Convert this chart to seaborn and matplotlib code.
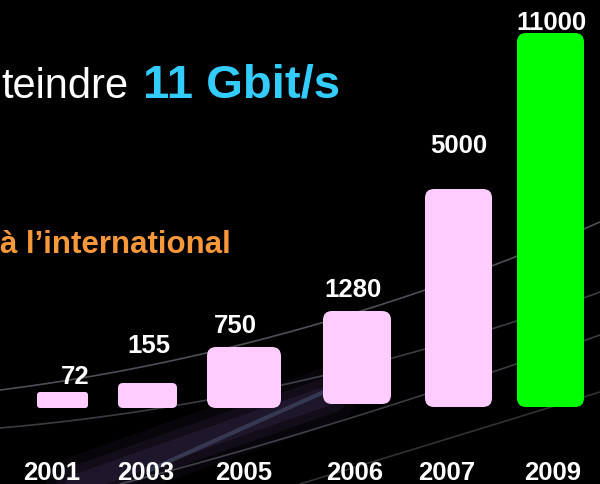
import numpy as np
import pandas as pd
import matplotlib
matplotlib.use("Agg")
import matplotlib.pyplot as plt
import seaborn as sns
from matplotlib.patches import FancyBboxPatch

# ---- data ----
years = ["2001", "2003", "2005", "2006", "2007", "2009"]
values = [72, 155, 750, 1280, 5000, 11000]
# bar heights as drawn on the slide (not to scale with values)
drawn_heights = [16, 25, 61, 93, 218, 374]
bar_colors = ["#FFCCFF", "#FFCCFF", "#FFCCFF", "#FFCCFF", "#FFCCFF", "#00FF00"]

# ---- layout (pixel-like units) ----
bar_centers = [62.5, 147.5, 244, 357, 458.5, 550.5]
bar_widths = [51, 59, 74, 68, 67, 67]
bar_bottoms = [0, 0, 0, 4, 1, 1]
label_x = [75, 149, 235, 353, 459, 551]
label_y = [24, 55, 75, 111, 255, 378]
year_x = [52, 146, 244, 355, 447, 553]

sns.set_theme(style="dark")
plt.rcParams['font.family'] = ['Liberation Sans', 'DejaVu Sans']

fig = plt.figure(figsize=(6, 4.84), dpi=100, facecolor="black")

# background decoration
bg = fig.add_axes([0, 0, 1, 1])
bg.set_xlim(0, 600)
bg.set_ylim(484, 0)
bg.axis("off")

def bez(p0, p1, p2, n=80):
    t = np.linspace(0, 1, n)[:, None]
    p0, p1, p2 = map(np.array, (p0, p1, p2))
    pts = (1 - t) ** 2 * p0 + 2 * (1 - t) * t * p1 + t ** 2 * p2
    return pts[:, 0], pts[:, 1]

# purple glow
for lw, a in [(40, 0.06), (26, 0.08), (14, 0.10)]:
    xs, ys = bez((60, 490), (200, 440), (330, 395))
    bg.plot(xs, ys, color="#8a6cc0", lw=lw, alpha=a, solid_capstyle="round")
xs, ys = bez((150, 470), (260, 420), (340, 385))
bg.plot(xs, ys, color="#7fa0c8", lw=3, alpha=0.25)

swooshes = [
    ((0, 390), (300, 352), (600, 222), 0.40),
    ((0, 428), (300, 402), (600, 292), 0.30),
    ((120, 484), (330, 430), (600, 335), 0.30),
    ((300, 484), (470, 432), (600, 392), 0.25),
]
for p0, p1, p2, a in swooshes:
    xs, ys = bez(p0, p1, p2)
    bg.plot(xs, ys, color="#c0c8d8", lw=1.2, alpha=a)

# title texts
bg.text(1, 98, "teindre", ha="left", va="baseline", fontsize=30,
        color="white")
bg.text(143, 98, "11 Gbit/s", ha="left", va="baseline", fontsize=34,
        color="#33CCFF", fontweight="bold")
bg.text(231, 253, "à l\u2019international", ha="right", va="baseline",
        fontsize=22.5, color="#F7993B", fontweight="bold")

# ---- bars ----
df = pd.DataFrame({"year": years, "h": drawn_heights})
ax = fig.add_axes([0, 28 / 484, 1, 456 / 484])
ax.set_facecolor("none")
sns.barplot(data=df, x="year", y="h", hue="year", palette=bar_colors,
            legend=False, ax=ax, saturation=1)

for p in list(ax.patches):
    i = int(round(p.get_x() + p.get_width() / 2))
    h = p.get_height()
    fc = p.get_facecolor()
    p.remove()
    w = bar_widths[i]
    r = min(9, h * 0.2)
    ax.add_patch(FancyBboxPatch((bar_centers[i] - w / 2, bar_bottoms[i]), w, h,
                                boxstyle=f"round,pad=0,rounding_size={r}",
                                fc=fc, ec="none", zorder=3))

for i, v in enumerate(values):
    ax.text(label_x[i], label_y[i], str(v), ha="center", va="baseline",
            fontsize=18.5, fontweight="bold", color="white", zorder=4)

ax.set_xlim(0, 600)
ax.set_ylim(-48, 408)
ax.set_xticks(year_x, years)
ax.set_yticks([])
ax.set_xlabel("")
ax.set_ylabel("")
ax.grid(False)
for s in ax.spines.values():
    s.set_visible(False)
ax.tick_params(axis="x", length=0, pad=3.5, labelsize=18.5, labelcolor="white")
for t in ax.get_xticklabels():
    t.set_fontweight("bold")

fig.savefig("out.png", dpi=100, facecolor="black")
